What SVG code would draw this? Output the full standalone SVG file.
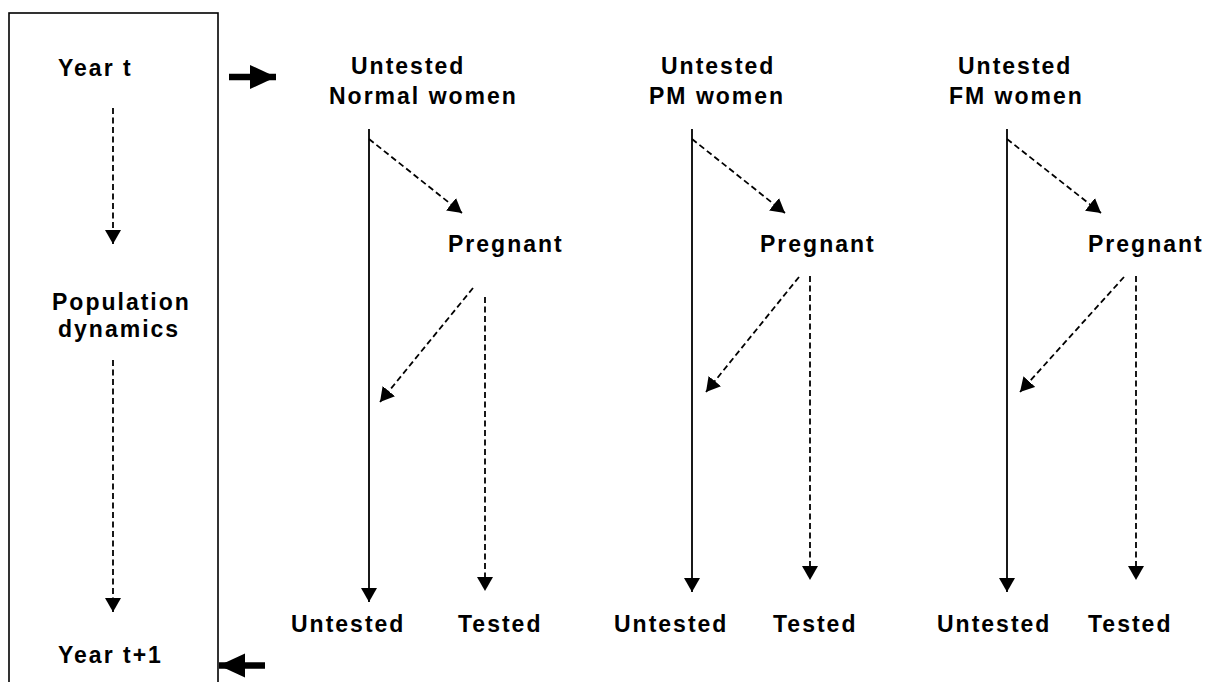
<svg xmlns="http://www.w3.org/2000/svg" width="1207" height="682" viewBox="0 0 1207 682">
<style>
text{font-family:"Liberation Sans",Arial,sans-serif;font-weight:bold;font-size:23px;letter-spacing:2px;fill:#000}
.solid{stroke:#000;stroke-width:1.8;fill:none}
.dash{stroke:#000;stroke-width:1.8;fill:none;stroke-dasharray:6,3.5}
.thick{stroke:#000;stroke-width:6.5;fill:none}
</style>
<defs>
<marker id="ah" markerUnits="userSpaceOnUse" markerWidth="17" markerHeight="17" refX="14" refY="8" orient="auto">
<path d="M0,0 L14,8 L0,16 z" fill="#000"/>
</marker>
<marker id="big" markerUnits="userSpaceOnUse" markerWidth="27" markerHeight="25" refX="26" refY="12" orient="auto">
<path d="M0,0 L26,12 L0,24 z" fill="#000"/>
</marker>
</defs>
<g id="timeline">
<rect x="9" y="13" width="209" height="700" fill="none" stroke="#000" stroke-width="1.6"/>
<text x="58" y="76">Year t</text>
<text x="52" y="310">Population</text>
<text x="58" y="337">dynamics</text>
<text x="58" y="663">Year t+1</text>
</g>
<g id="col-normal">
<text x="351" y="74">Untested</text>
<text x="329" y="104">Normal women</text>
<text x="448" y="252">Pregnant</text>
<text x="291" y="632">Untested</text>
<text x="458" y="632">Tested</text>
</g>
<g id="col-pm">
<text x="661" y="74">Untested</text>
<text x="649" y="104">PM women</text>
<text x="760" y="252">Pregnant</text>
<text x="614" y="632">Untested</text>
<text x="773" y="632">Tested</text>
</g>
<g id="col-fm">
<text x="958" y="74">Untested</text>
<text x="949" y="104">FM women</text>
<text x="1088" y="252">Pregnant</text>
<text x="937" y="632">Untested</text>
<text x="1088" y="632">Tested</text>
</g>
<g id="connectors">
<line class="dash" x1="113" y1="108" x2="113" y2="244" marker-end="url(#ah)"/>
<line class="dash" x1="113" y1="360" x2="113" y2="612" marker-end="url(#ah)"/>
<line class="thick" x1="229" y1="77" x2="276" y2="77" marker-end="url(#big)"/>
<line class="thick" x1="265" y1="665.5" x2="219" y2="665.5" marker-end="url(#big)"/>

<line class="solid" x1="369" y1="129" x2="369" y2="602" marker-end="url(#ah)"/>
<line class="dash" x1="369" y1="139" x2="462" y2="213" marker-end="url(#ah)"/>
<line class="dash" x1="473" y1="288" x2="380" y2="402" marker-end="url(#ah)"/>
<line class="dash" x1="485" y1="297" x2="485" y2="591" marker-end="url(#ah)"/>

<line class="solid" x1="692" y1="129" x2="692" y2="592" marker-end="url(#ah)"/>
<line class="dash" x1="692" y1="139" x2="785" y2="213" marker-end="url(#ah)"/>
<line class="dash" x1="799" y1="277" x2="706" y2="392" marker-end="url(#ah)"/>
<line class="dash" x1="810" y1="276" x2="810" y2="580" marker-end="url(#ah)"/>

<line class="solid" x1="1007" y1="129" x2="1007" y2="592" marker-end="url(#ah)"/>
<line class="dash" x1="1007" y1="139" x2="1101" y2="213" marker-end="url(#ah)"/>
<line class="dash" x1="1124" y1="277" x2="1020" y2="392" marker-end="url(#ah)"/>
<line class="dash" x1="1136" y1="276" x2="1136" y2="580" marker-end="url(#ah)"/>
</g>
</svg>
